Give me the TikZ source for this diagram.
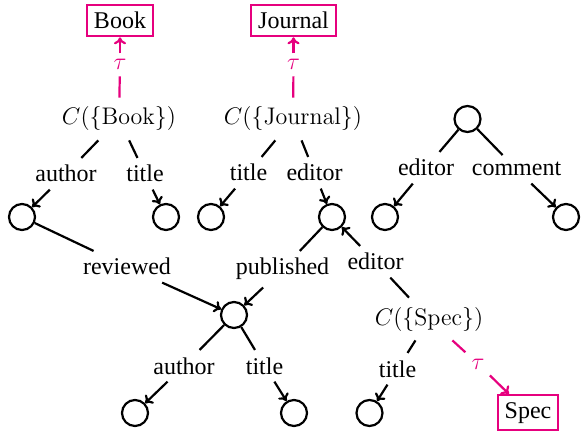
\documentclass[tikz,border=0pt]{standalone}
\usepackage[no-math]{fontspec}
\setmainfont{Liberation Serif}
\usetikzlibrary{arrows.meta}
\definecolor{pinkc}{RGB}{230,0,126}
\begin{document}
\begin{tikzpicture}[x=0.5pt,y=-0.5pt,
  every node/.style={font=\fontsize{12}{14}\selectfont},
  lbl/.style={anchor=base, inner sep=3.5pt},
  cn/.style={anchor=base, inner sep=4.5pt},
  circ/.style={circle, draw, line width=1.1pt, minimum size=13pt, inner sep=0pt},
  pbox/.style={draw=pinkc, line width=1.1pt, anchor=base, inner sep=3.5pt},
  tau/.style={anchor=base, text=pinkc, inner sep=3pt},
  conn/.style={line width=1.1pt},
  tip/.style={-{To[length=3.5pt,width=6pt]}},
  arr/.style={conn,tip},
  pconn/.style={draw=pinkc, line width=1.1pt}]
\useasboundingbox (0,0) rectangle (581,437);
% boxes and C nodes
\node[pbox] (bookbox) at (120,29) {Book};
\node[pbox] (journbox) at (293.5,29) {Journal};
\node[pbox] (specbox) at (528,418) {Spec};
\node[tau] (taub) at (120,70) {$\tau$};
\node[tau] (tauj) at (293.5,70) {$\tau$};
\node[tau] (taus) at (478,369) {$\tau$};
\node[cn] (cbook) at (119,125) {$C(\{\mathrm{Book}\})$};
\node[cn] (cjourn) at (293,125) {$C(\{\mathrm{Journal}\})$};
\node[cn] (cspec) at (429,325) {$C(\{\mathrm{Spec}\})$};
% labels
\node[lbl] (a1) at (66,182) {author};
\node[lbl] (t1) at (145,182) {title};
\node[lbl] (t2) at (248.5,181) {title};
\node[lbl] (e2) at (314.5,181) {editor};
\node[lbl] (e3) at (426,176) {editor};
\node[lbl] (c3) at (516.5,176) {comment};
\node[lbl] (rev) at (127,275) {reviewed};
\node[lbl] (pub) at (282.5,275) {published};
\node[lbl] (ed4) at (375.5,270) {editor};
\node[lbl] (a5) at (184,374) {author};
\node[lbl] (t5) at (264.5,374) {title};
\node[lbl] (t6) at (397.5,377) {title};
% circles
\node[circ] (n1) at (22,217) {};
\node[circ] (n2) at (166,217) {};
\node[circ] (n3) at (211,217) {};
\node[circ] (n4) at (332,217) {};
\node[circ] (n5) at (467.5,119) {};
\node[circ] (n6) at (385,217) {};
\node[circ] (n7) at (566,217) {};
\node[circ] (n8) at (234,315) {};
\node[circ] (n9) at (135,413) {};
\node[circ] (n10) at (294,413) {};
\node[circ] (n11) at (369.5,413) {};
% black connectors
\draw[conn] (cbook) -- (a1); \draw[arr] (a1) -- (n1);
\draw[conn] (cbook) -- (t1); \draw[arr] (t1) -- (n2);
\draw[conn] (cjourn) -- (t2); \draw[arr] (t2) -- (n3);
\draw[conn] (cjourn) -- (e2); \draw[arr] (e2) -- (n4);
\draw[conn] (n5) -- (e3); \draw[arr] (e3) -- (n6);
\draw[conn] (n5) -- (c3); \draw[arr] (c3) -- (n7);
\draw[conn] (n1) -- (rev); \draw[arr] (rev) -- (n8);
\draw[conn] (n4) -- (pub); \draw[arr] (pub) -- (n8);
\draw[conn] (cspec) -- (ed4); \draw[arr] (ed4) -- (n4);
\draw[conn] (n8) -- (a5); \draw[arr] (a5) -- (n9);
\draw[conn] (n8) -- (t5); \draw[arr] (t5) -- (n10);
\draw[conn] (cspec) -- (t6); \draw[arr] (t6) -- (n11);
% pink connectors
\draw[pconn] (cbook) -- (taub); \draw[pconn,tip] (taub) -- (bookbox);
\draw[pconn] (cjourn) -- (tauj); \draw[pconn,tip] (tauj) -- (journbox);
\draw[pconn] (cspec) -- (taus); \draw[pconn,tip] (taus) -- (specbox);
\end{tikzpicture}
\end{document}
